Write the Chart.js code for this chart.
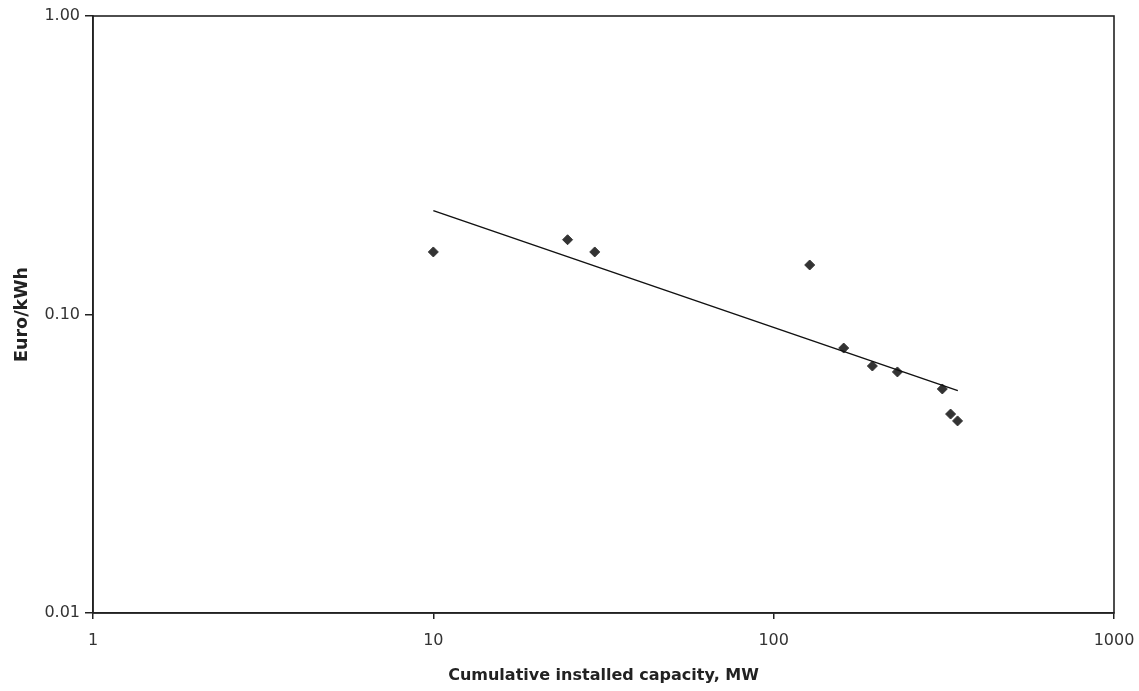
<!DOCTYPE html>
<html>
<head>
<meta charset="utf-8">
<script src="https://cdn.jsdelivr.net/npm/chart.js@4/dist/chart.umd.min.js"></script>
<style>
  html, body { margin: 0; padding: 0; background: #ffffff; }
  #wrap { width: 1139px; height: 691px; position: relative; }
</style>
</head>
<body>
<div id="wrap"><canvas id="c" width="1139" height="691"></canvas></div>
<script>
// Observed data points (cumulative installed capacity MW, Euro/kWh)
const capacityMW = [10, 24.8, 29.8, 127.6, 160.6, 195, 231, 313, 331, 347];
const costEuroKWh = [0.162, 0.178, 0.162, 0.1465, 0.0772, 0.0672, 0.0642, 0.0563, 0.0464, 0.044];
// Trend line end points
const trendX = [10, 347.6];
const trendY = [0.2228, 0.0556];
// Axis ticks
const xTickValues = [1, 10, 100, 1000];
const xTickLabels = ['1', '10', '100', '1000'];
const yTickValues = [0.01, 0.1, 1];
const yTickLabels = ['0.01', '0.10', '1.00'];
const xTitle = 'Cumulative installed capacity, MW';
const yTitle = 'Euro/kWh';

const frame = {
  id: 'frame',
  afterDatasetsDraw(chart) {
    const a = chart.chartArea, ctx = chart.ctx;
    ctx.save();
    ctx.strokeStyle = '#222';
    ctx.lineWidth = 1.6;
    ctx.strokeRect(a.left, a.top, a.right - a.left, a.bottom - a.top);
    ctx.restore();
  }
};

new Chart(document.getElementById('c'), {
  type: 'scatter',
  data: {
    datasets: [
      {
        label: 'trend',
        data: trendX.map((x, i) => ({ x, y: trendY[i] })),
        showLine: true,
        borderColor: '#111',
        borderWidth: 1.5,
        pointRadius: 0,
        fill: false
      },
      {
        label: 'data',
        data: capacityMW.map((x, i) => ({ x, y: costEuroKWh[i] })),
        pointStyle: 'rectRot',
        pointRadius: 5,
        backgroundColor: '#333',
        borderColor: '#333',
        borderWidth: 1
      }
    ]
  },
  options: {
    responsive: false,
    animation: false,
    layout: { padding: { top: 16, right: 25, left: 0, bottom: 0 } },
    plugins: { legend: { display: false }, tooltip: { enabled: false } },
    scales: {
      x: {
        type: 'logarithmic',
        min: 1, max: 1000,
        afterBuildTicks: s => { s.ticks = xTickValues.map(v => ({ value: v })); },
        afterFit: s => { s.height = 78; s.paddingRight = 0; s.paddingLeft = 0; },
        ticks: {
          autoSkip: false, maxRotation: 0,
          color: '#333',
          font: { family: 'DejaVu Sans', size: 16 },
          padding: 12,
          callback: (v, i) => xTickLabels[i]
        },
        grid: { display: true, drawOnChartArea: false, tickLength: 6, color: '#222', lineWidth: 1.5 },
        border: { display: true, color: '#222', width: 1.6 },
        title: {
          display: true, text: xTitle, color: '#222',
          font: { family: 'DejaVu Sans', size: 16, weight: 'bold' },
          padding: { top: 0, bottom: 6 }
        }
      },
      y: {
        type: 'logarithmic',
        min: 0.01, max: 1,
        afterBuildTicks: s => { s.ticks = yTickValues.map(v => ({ value: v })); },
        afterFit: s => { s.width = 93; s.paddingTop = 0; s.paddingBottom = 0; },
        ticks: {
          autoSkip: false,
          color: '#333',
          font: { family: 'DejaVu Sans', size: 16 },
          padding: 5,
          callback: (v, i) => yTickLabels[i]
        },
        grid: { display: true, drawOnChartArea: false, tickLength: 8, color: '#222', lineWidth: 1.5 },
        border: { display: true, color: '#222', width: 1.6 },
        title: {
          display: true, text: yTitle, color: '#222',
          font: { family: 'DejaVu Sans', size: 17.5, weight: 'bold' },
          padding: { top: 12, bottom: 0 }
        }
      }
    }
  },
  plugins: [frame]
});
</script>
</body>
</html>
